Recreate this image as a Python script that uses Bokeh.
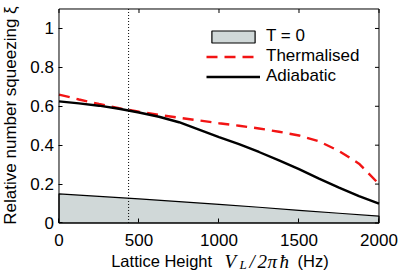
import math
from bokeh.plotting import figure
from bokeh.models import (Label, Legend, LegendItem, FixedTicker, Range1d,
                          CustomJSTickFormatter, BoxAnnotation)
from bokeh.embed import file_html
from bokeh.resources import INLINE

# ---- data ----
lattice = [0, 125, 250, 375, 500, 625, 750, 875, 1000, 1125, 1250, 1375, 1500, 1625, 1750, 1875, 2000]
adiabatic = [0.625, 0.615, 0.603, 0.587, 0.568, 0.546, 0.518, 0.480, 0.442, 0.405, 0.365, 0.322,
             0.277, 0.228, 0.182, 0.138, 0.100]
thermalised = [0.660, 0.635, 0.612, 0.590, 0.572, 0.556, 0.541, 0.527, 0.513, 0.500, 0.486, 0.469,
               0.450, 0.420, 0.370, 0.305, 0.200]
t0_lattice = [0, 250, 500, 750, 1000, 1250, 1500, 1750, 2000]
t0_values = [0.150, 0.137, 0.124, 0.110, 0.096, 0.081, 0.065, 0.050, 0.035]
x_ticks = [0, 500, 1000, 1500, 2000]
y_ticks = [0, 0.2, 0.4, 0.6, 0.8, 1]
marker_lattice = 435
legend_labels = ["T = 0", "Thermalised", "Adiabatic"]

# axis limits of the plotted box
X_MIN, X_MAX = 0, 2000
Y_MIN, Y_MAX = 0, 1.1

SANS = "Liberation Sans"
SERIF = "Liberation Serif"

# The frame spans the whole canvas; the box (0..2000, 0..1.1) sits inside it,
# leaving room for tick labels and the axis titles (which are then not clipped).
p = figure(width=398, height=272,
           x_range=Range1d(-365.6, 2121.9), y_range=Range1d(-0.25444, 1.14369),
           output_backend="svg", toolbar_location=None,
           min_border_left=0, min_border_right=0, min_border_top=0, min_border_bottom=0)
p.grid.visible = False
p.outline_line_color = None
p.background_fill_color = "white"
p.border_fill_color = "white"

# T = 0 filled region
patch_x = t0_lattice + [t0_lattice[-1], t0_lattice[0]]
patch_y = t0_values + [Y_MIN, Y_MIN]
r_t0 = p.patch(patch_x, patch_y, fill_color="#d0d8d8", line_color="black", line_width=1.2)

r_th = p.line(lattice, thermalised, line_color="#f21414", line_width=2.4, line_dash="11 7")
r_ad = p.line(lattice, adiabatic, line_color="black", line_width=2.4)

# dotted marker line
p.line(x=[marker_lattice, marker_lattice], y=[Y_MIN, Y_MAX],
       line_color="black", line_width=1, line_dash="1 2")

# box around the plot
p.add_layout(BoxAnnotation(left=X_MIN, right=X_MAX, bottom=Y_MIN, top=Y_MAX,
                           fill_alpha=0, line_color="black", line_width=1, line_alpha=1))

# mirrored inward ticks on top and right
p.ray(x=x_ticks, y=[Y_MAX] * len(x_ticks), length=4, length_units="screen",
      angle=-math.pi / 2, line_color="black", line_width=1)
p.ray(x=[X_MAX] * len(y_ticks), y=y_ticks, length=4, length_units="screen",
      angle=math.pi, line_color="black", line_width=1)

fmt = CustomJSTickFormatter(code="return String(Math.round(tick*10)/10);")

xa = p.xaxis[0]
ya = p.yaxis[0]
xa.ticker = FixedTicker(ticks=x_ticks)
ya.ticker = FixedTicker(ticks=y_ticks)
ya.formatter = fmt
xa.fixed_location = Y_MIN
ya.fixed_location = X_MIN
xa.bounds = (X_MIN, X_MAX)
ya.bounds = (Y_MIN, Y_MAX)

for ax in (xa, ya):
    ax.axis_line_color = None
    ax.major_tick_in = 4
    ax.major_tick_out = 0
    ax.major_tick_line_color = "black"
    ax.minor_tick_line_color = None
    ax.major_label_text_font = SANS
    ax.major_label_text_font_size = "17px"
    ax.major_label_text_color = "black"

xa.major_label_standoff = 11
ya.major_label_standoff = 5
ya.axis_label = "Relative number squeezing ξ"
ya.axis_label_text_font = SANS
ya.axis_label_text_font_size = "17px"
ya.axis_label_text_font_style = "normal"
ya.axis_label_standoff = 7
ya.axis_label_text_color = "black"

# x axis title built from pieces (text + math symbols)
base = -38.5
pieces = [
    ("Lattice Height", 52.2, base, SANS, "16.5px", "normal"),
    ("V", 165.5, base, SERIF, "19px", "italic"),
    ("L", 180.5, base - 3.5, SERIF, "13px", "italic"),
    ("/", 190.5, base, SERIF, "19px", "italic"),
    ("2", 198.5, base, SERIF, "19px", "italic"),
    ("π", 208.5, base, SERIF, "19px", "italic"),
    ("ħ", 220.5, base, SERIF, "19px", "italic"),
    ("(Hz)", 238.5, base, SANS, "16.5px", "normal"),
]
for txt, dx, dy, font, size, style in pieces:
    p.add_layout(Label(x=X_MIN, y=Y_MIN, x_offset=dx, y_offset=dy,
                       text=txt, text_font=font, text_font_size=size, text_font_style=style,
                       text_baseline="alphabetic", text_align="left", text_color="black"))

legend = Legend(items=[LegendItem(label=legend_labels[0], renderers=[r_t0]),
                       LegendItem(label=legend_labels[1], renderers=[r_th]),
                       LegendItem(label=legend_labels[2], renderers=[r_ad])],
                location=(206, 186), glyph_width=54, glyph_height=15, label_standoff=6,
                padding=0, margin=0, spacing=0, label_height=15,
                border_line_color=None, background_fill_alpha=0,
                label_text_font=SANS, label_text_font_size="17px", label_text_color="black")
p.add_layout(legend)

open("out.html", "w").write(file_html(p, INLINE))
